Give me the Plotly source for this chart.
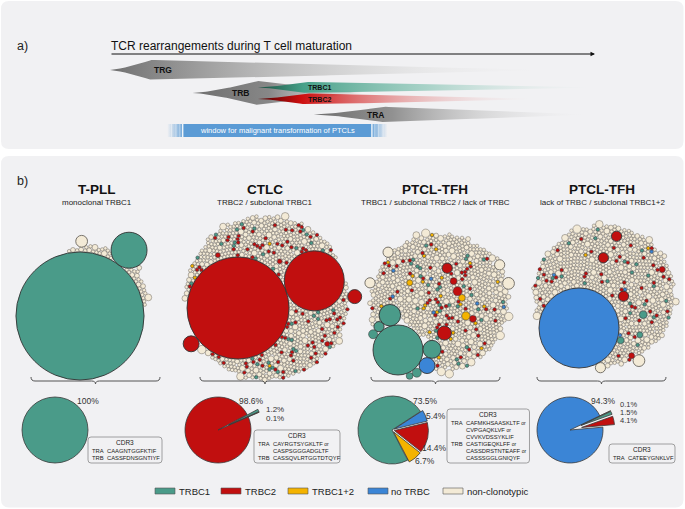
import math
import plotly.graph_objects as go

W, H = 685, 509
FONT = "Liberation Sans, Arial, Helvetica, sans-serif"

# ======================= DATA =======================
categories = ["TRBC1", "TRBC2", "TRBC1+2", "no TRBC", "non-clonotypic"]

# ---- panel a: schematic of TCR rearrangement timing (maturation axis 0..100)
segment_labels = ["TRG", "TRB", "TRBC1", "TRBC2", "TRA"]
segment_start = [0, 17, 30.5, 30.5, 42]
segment_peak = [8.5, 30.5, 40.5, 40.5, 56.5]
segment_end = [93, 52, 102, 90, 100]
window_label = "window for malignant transformation of PTCLs"
window_start, window_end = 15, 54

# ---- panel b
entity_titles = ["T-PLL", "CTLC", "PTCL-TFH", "PTCL-TFH"]
entity_subtitles = ["monoclonal TRBC1", "TRBC2 / subclonal TRBC1",
                    "TRBC1 / subclonal TRBC2 / lack of TRBC",
                    "lack of TRBC / subclonal TRBC1+2"]

# expanded clonotypes: category and cells per clonotype
tpll_clone_cat = ["TRBC1", "TRBC1"]
tpll_clone_size = [1420, 112]
tpll_small_cat = ["non-clonotypic"] * 5
tpll_small_size = [1, 2, 3, 4, 12]
tpll_small_n = [32, 8, 2, 1, 1]

ctlc_clone_cat = ["TRBC2", "TRBC2", "TRBC2", "TRBC2"]
ctlc_clone_size = [900, 311, 22, 17]
ctlc_small_cat = ["non-clonotypic"] * 6 + ["TRBC2", "TRBC2", "TRBC1", "TRBC1+2"]
ctlc_small_size = [1, 2, 3, 4, 5, 6, 1, 2, 1, 1]
ctlc_small_n = [560, 70, 20, 2, 2, 1, 90, 3, 35, 4]

tfh1_clone_cat = ["TRBC1"] * 7 + ["no TRBC"] + ["TRBC2"] * 5 + ["TRBC1+2"] * 3
tfh1_clone_size = [216, 40, 28, 9, 7, 7, 4, 22, 17, 9, 7, 4, 4, 6, 4, 3]
tfh1_small_cat = ["non-clonotypic"] * 8 + ["TRBC2", "TRBC1+2", "TRBC1", "no TRBC"]
tfh1_small_size = [1, 2, 3, 4, 5, 6, 9, 12, 1, 1, 1, 1]
tfh1_small_n = [650, 110, 35, 2, 1, 5, 3, 1, 55, 22, 28, 6]

tfh2_clone_cat = ["no TRBC", "TRBC2", "TRBC2", "TRBC2", "TRBC2", "TRBC2", "TRBC1", "TRBC1", "TRBC1"]
tfh2_clone_size = [554, 9, 9, 9, 3, 3, 5, 4, 3]
tfh2_small_cat = ["non-clonotypic"] * 8 + ["TRBC2", "TRBC1", "no TRBC", "TRBC1+2"]
tfh2_small_size = [1, 2, 3, 4, 5, 6, 9, 12, 1, 1, 1, 1]
tfh2_small_n = [620, 90, 25, 3, 2, 1, 1, 1, 45, 22, 4, 2]

# pie charts: share of clonotypic cells (%)
tpll_pie_cat = ["TRBC1"]
tpll_pie_pct = [100]
ctlc_pie_cat = ["TRBC1", "TRBC1+2", "TRBC2"]
ctlc_pie_pct = [1.2, 0.1, 98.6]
tfh1_pie_cat = ["no TRBC", "TRBC2", "TRBC1+2", "TRBC1"]
tfh1_pie_pct = [5.4, 14.4, 6.7, 73.5]
tfh2_pie_cat = ["TRBC1+2", "TRBC1", "TRBC2", "no TRBC"]
tfh2_pie_pct = [0.1, 1.5, 4.1, 94.3]

# CDR3 sequences
tpll_cdr3_tra = ["CAAGNTGGFKTIF"]
tpll_cdr3_trb = ["CASSFDNSGNTIYF"]
ctlc_cdr3_tra = ["CAYRGTSYGKLTF", "CASPSGGGADGLTF"]
ctlc_cdr3_trb = ["CASSQVLRTGGTDTQYF"]
tfh1_cdr3_tra = ["CAFMKHSAASKLTF", "CVPGAQKLVF", "CVVKVDSSYKLIF"]
tfh1_cdr3_trb = ["CASTIGEQKLFF", "CASSDRSTNTEAFF", "CASSSGGLGNIQYF"]
tfh2_cdr3_tra = ["CATEEYGNKLVF"]
tfh2_cdr3_trb = []

# ======================= STYLE / LAYOUT =======================
COLORS = {"TRBC1": "#4a9b89", "TRBC2": "#c10f0f", "TRBC1+2": "#f4b300",
          "no TRBC": "#3b85d6", "non-clonotypic": "#f3ead6"}
PANEL_BG = "#f1f1f3"
K = 1.7  # px per sqrt(cell)


def px(x):
    return x / W


def py(y):
    return 1 - y / H


def P(x, y):
    return f"{px(x):.5f},{py(y):.5f}"


# ---------------- front-chain circle packing (d3.packSiblings) -------------
def place(b, a, c):
    dx = b[0] - a[0]
    dy = b[1] - a[1]
    d2 = dx * dx + dy * dy
    if d2:
        a2 = (a[2] + c[2]) ** 2
        b2 = (b[2] + c[2]) ** 2
        if a2 > b2:
            x = (d2 + b2 - a2) / (2 * d2)
            y = math.sqrt(max(0.0, b2 / d2 - x * x))
            c[0] = b[0] - x * dx - y * dy
            c[1] = b[1] - x * dy + y * dx
        else:
            x = (d2 + a2 - b2) / (2 * d2)
            y = math.sqrt(max(0.0, a2 / d2 - x * x))
            c[0] = a[0] + x * dx - y * dy
            c[1] = a[1] + x * dy + y * dx
    else:
        c[0] = a[0] + c[2]
        c[1] = a[1]


def intersects(a, b):
    dr = a[2] + b[2] - 1e-6
    dx = b[0] - a[0]
    dy = b[1] - a[1]
    return dr > 0 and dr * dr > dx * dx + dy * dy


class Node:
    __slots__ = ("c", "next", "prev")

    def __init__(self, c):
        self.c = c
        self.next = None
        self.prev = None


def score(node, tx, ty):
    a = node.c
    b = node.next.c
    ab = a[2] + b[2]
    dx = (a[0] * b[2] + b[0] * a[2]) / ab - tx
    dy = (a[1] * b[2] + b[1] * a[2]) / ab - ty
    return dx * dx + dy * dy


def pack_siblings(circles, attract):
    n = len(circles)
    a = circles[0]
    a[0] = 0.0
    a[1] = 0.0
    if n < 2:
        return
    b = circles[1]
    a[0] = -b[2]
    b[0] = a[2]
    b[1] = 0.0
    if n < 3:
        return
    c = circles[2]
    place(b, a, c)
    a, b, c = Node(a), Node(b), Node(c)
    a.next = c.prev = b
    b.next = a.prev = c
    c.next = b.prev = a
    i = 3
    while i < n:
        cc = circles[i]
        place(a.c, b.c, cc)
        c = Node(cc)
        j, k = b.next, a.prev
        sj, sk = b.c[2], a.c[2]
        restart = False
        while True:
            if sj <= sk:
                if intersects(j.c, c.c):
                    b = j
                    a.next = b
                    b.prev = a
                    restart = True
                    break
                sj += j.c[2]
                j = j.next
            else:
                if intersects(k.c, c.c):
                    a = k
                    a.next = b
                    b.prev = a
                    restart = True
                    break
                sk += k.c[2]
                k = k.prev
            if j is k.next:
                break
        if restart:
            continue
        c.prev = a
        c.next = b
        a.next = c
        b.prev = c
        b = c
        nxt = i + 1
        if nxt < n and attract[nxt] is not None:
            tx, ty = circles[attract[nxt]][0], circles[attract[nxt]][1]
        else:
            tx, ty = 0.0, 0.0
        aa = score(a, tx, ty)
        c = c.next
        while c is not b:
            ca = score(c, tx, ty)
            if ca < aa:
                a = c
                aa = ca
            c = c.next
        b = a.next
        i += 1


def build_pack(clone_cat, clone_size, clone_key, clone_attract, small_cat, small_size, small_n, early):
    items = []
    for g, (c, s, n) in enumerate(zip(small_cat, small_size, small_n)):
        phase = (0.5 + 0.381966 * g) % 1.0
        for j in range(n):
            u = (j + phase) / n
            if c == "non-clonotypic" and s >= 4:
                key = 0.93 + 0.07 * u
            elif c != "non-clonotypic":
                key = u ** early
            else:
                key = u
            items.append((key, c, s, -1))
    for ci, (c, s, kk) in enumerate(zip(clone_cat, clone_size, clone_key)):
        items.append((kk, c, s, ci))
    items.sort(key=lambda t: t[0])
    pos_of_clone = {it[3]: idx for idx, it in enumerate(items) if it[3] >= 0}
    attract = []
    for it in items:
        if it[3] >= 0 and clone_attract[it[3]] is not None:
            attract.append(pos_of_clone[clone_attract[it[3]]])
        else:
            attract.append(None)
    circles = [[0.0, 0.0, math.sqrt(s)] for _, _, s, _ in items]
    cats = [c for _, c, _, _ in items]
    pack_siblings(circles, attract)
    return circles, cats


def orient(circles, ref, angle_deg, mirror=False):
    order = sorted(range(len(circles)), key=lambda i: -circles[i][2])
    ai = order[0]
    x0, y0 = circles[ai][0], circles[ai][1]
    if ref == "centroid":
        rx = sum(c[0] for c in circles) / len(circles)
        ry = sum(c[1] for c in circles) / len(circles)
    else:
        rx, ry = circles[order[1]][0], circles[order[1]][1]
    phi = math.radians(angle_deg)
    th = phi - math.atan2(ry - y0, rx - x0)
    ct, st = math.cos(th), math.sin(th)
    c2, s2 = math.cos(2 * phi), math.sin(2 * phi)
    out = []
    for x, y, r in circles:
        dx, dy = x - x0, y - y0
        u = dx * ct - dy * st
        v = dx * st + dy * ct
        if mirror:
            u, v = u * c2 + v * s2, u * s2 - v * c2
        out.append((u, v, r))
    return out


packs = [
    dict(cc=tpll_clone_cat, cs=tpll_clone_size, ck=[-2, -1], ca=[None, None],
         sc=tpll_small_cat, ss=tpll_small_size, sn=tpll_small_n, early=1.0,
         anchor=(80, 316), ref="second", angle=53.3, mirror=False),
    dict(cc=ctlc_clone_cat, cs=ctlc_clone_size, ck=[-4, -3, 0.965, 0.99], ca=[None, None, 0, None],
         sc=ctlc_small_cat, ss=ctlc_small_size, sn=ctlc_small_n, early=1.0,
         anchor=(238, 308), ref="second", angle=19.6, mirror=False),
    dict(cc=tfh1_clone_cat, cs=tfh1_clone_size,
         ck=[0.35, 0.3501, 0.3502, 0.3503, 0.3504, 0.3505, 0.3506, 0.35035,
             0.15, 0.22, 0.08, 0.3, 0.12, 0.18, 0.1, 0.28],
         ca=[None, 0, 0, 0, 0, 0, 0, 0, None, None, None, None, None, None, None, None],
         sc=tfh1_small_cat, ss=tfh1_small_size, sn=tfh1_small_n, early=1.5,
         anchor=(398, 350), ref="centroid", angle=50, mirror=False),
    dict(cc=tfh2_clone_cat, cs=tfh2_clone_size,
         ck=[0.003, 0.05, 0.2, 0.6, 0.75, 0.85, 0.3, 0.4, 0.5], ca=[None] * 9,
         sc=tfh2_small_cat, ss=tfh2_small_size, sn=tfh2_small_n, early=1.0,
         anchor=(579, 328), ref="centroid", angle=53, mirror=False),
]

fig = go.Figure()
layout = dict(width=W, height=H, margin=dict(l=0, r=0, t=0, b=0),
              paper_bgcolor="white", plot_bgcolor="rgba(0,0,0,0)", showlegend=False)

# ---- axes: x = maturation axis of panel a, y = pixel rows of the page
t_lo, t_hi = -5, 105
px_of_t0, px_per_t = 110, 4.85
layout["xaxis"] = dict(domain=[px(px_of_t0 + px_per_t * t_lo), px(px_of_t0 + px_per_t * t_hi)],
                       range=[t_lo, t_hi], visible=False, fixedrange=True)
layout["yaxis"] = dict(domain=[0, 1], range=[H, 0], visible=False, fixedrange=True)

shapes = []
ann = []


def text(x, y, s, size, color="#222", bold=False, xanchor="center", yanchor="middle",
         xref="paper", yref="paper"):
    ann.append(dict(x=px(x) if xref == "paper" else x, y=py(y) if yref == "paper" else y,
                    xref=xref, yref=yref, text=f"<b>{s}</b>" if bold else s,
                    showarrow=False, xanchor=xanchor, yanchor=yanchor, borderpad=0,
                    font=dict(size=size, color=color, family=FONT)))


def rrect(x0, y0, x1, y1, r):
    return (f"M{P(x0 + r, y0)} L{P(x1 - r, y0)} Q{P(x1, y0)} {P(x1, y0 + r)} "
            f"L{P(x1, y1 - r)} Q{P(x1, y1)} {P(x1 - r, y1)} L{P(x0 + r, y1)} "
            f"Q{P(x0, y1)} {P(x0, y1 - r)} L{P(x0, y0 + r)} Q{P(x0, y0)} {P(x0 + r, y0)} Z")


# panel backgrounds
for (y0, y1) in [(1, 149), (156, 507.5)]:
    shapes.append(dict(type="path", path=rrect(1, y0, 683.5, y1, 8), xref="paper", yref="paper",
                       fillcolor=PANEL_BG, line=dict(width=0), layer="below"))

# ======================= PANEL A =======================
text(22, 46, "a)", 12.5, "#222")
text(px_of_t0, 46, "TCR rearrangements during T cell maturation", 12, "#111", xanchor="left")
ann.append(dict(x=100, y=54, ax=0, ay=54, xref="x", yref="y", axref="x", ayref="y",
                text="", showarrow=True, arrowhead=2, arrowsize=0.9, arrowwidth=1,
                arrowcolor="#111"))

seg_lane = [70, 93, 87.5, 99, 114.5]
seg_half = [10, 12, 5.6, 5.6, 7.8]
seg_scale = [
    [[0, "rgb(112,112,112)"], [0.1, "rgb(135,135,135)"], [0.35, "rgba(182,182,182,0.9)"],
     [0.7, "rgba(225,225,225,0.55)"], [1, "rgba(241,241,243,0)"]],
    [[0, "rgb(110,110,110)"], [0.45, "rgb(135,135,135)"], [1, "rgba(195,195,195,0.25)"]],
    [[0, "rgb(25,80,65)"], [0.13, "rgb(70,160,136)"], [0.5, "rgba(115,188,168,0.55)"], [1, "rgba(241,241,243,0)"]],
    [[0, "rgb(80,0,0)"], [0.15, "rgb(205,15,15)"], [0.55, "rgba(225,120,120,0.45)"], [1, "rgba(241,241,243,0)"]],
    [[0, "rgb(110,110,110)"], [0.28, "rgb(145,145,145)"], [0.6, "rgba(198,198,198,0.6)"], [1, "rgba(241,241,243,0)"]],
]
for i in range(len(segment_labels)):
    t0, tp, t1 = segment_start[i], segment_peak[i], segment_end[i]
    n = 90
    ts = [t0 + (t1 - t0) * j / n for j in range(n + 1)]
    if tp not in ts:
        ts = sorted(ts + [tp])

    def half(t):
        if t <= tp:
            return seg_half[i] * ((t - t0) / (tp - t0)) ** 1.4
        return seg_half[i] * max(0.0, 1 - (t - tp) / (t1 - tp)) ** 1.1

    xs = ts + ts[::-1]
    ys = [seg_lane[i] - half(t) for t in ts] + [seg_lane[i] + half(t) for t in ts[::-1]]
    fig.add_trace(go.Scatter(x=xs, y=ys, mode="lines", fill="toself", line=dict(width=0),
                             fillgradient=dict(type="horizontal", colorscale=seg_scale[i],
                                               start=t0, stop=t1),
                             hoverinfo="skip", xaxis="x", yaxis="y"))

seg_label_t = [11, 27, 43.2, 43.2, 54.8]
seg_label_size = [8.5, 8.5, 7, 7, 8.5]
for i, lab in enumerate(segment_labels):
    text(seg_label_t[i], seg_lane[i], lab, seg_label_size[i], "#111", bold=True, xref="x", yref="y")

# window for malignant transformation
win_y0, win_y1 = 124, 137
blue = "91,155,213"
fig.add_trace(go.Scatter(x=[window_start, window_end, window_end, window_start, window_start],
                         y=[win_y0, win_y0, win_y1, win_y1, win_y0], mode="lines", fill="toself",
                         fillcolor=f"rgb({blue})", line=dict(width=0), hoverinfo="skip"))
fade = 3.2
for (a0, a1, cs) in [(window_start - fade, window_start,
                      [[0, f"rgba({blue},0)"], [1, f"rgba({blue},0.85)"]]),
                     (window_end, window_end + fade,
                      [[0, f"rgba({blue},0.85)"], [1, f"rgba({blue},0)"]])]:
    fig.add_trace(go.Scatter(x=[a0, a1, a1, a0, a0], y=[win_y0, win_y0, win_y1, win_y1, win_y0],
                             mode="lines", fill="toself", line=dict(width=0),
                             fillgradient=dict(type="horizontal", colorscale=cs, start=a0, stop=a1),
                             hoverinfo="skip"))
stripe_x, stripe_y = [], []
for t in [window_start - 2.3, window_start - 1.4, window_start - 0.6,
          window_end + 0.6, window_end + 1.4, window_end + 2.3]:
    stripe_x += [t, t, None]
    stripe_y += [win_y0, win_y1, None]
fig.add_trace(go.Scatter(x=stripe_x, y=stripe_y, mode="lines",
                         line=dict(color="rgba(255,255,255,0.55)", width=0.8), hoverinfo="skip"))
fig.add_trace(go.Scatter(x=[window_start, window_start, None, window_end, window_end],
                         y=[win_y0, win_y1, None, win_y0, win_y1], mode="lines",
                         line=dict(color="white", width=1.2), hoverinfo="skip"))
text((window_start + window_end) / 2, (win_y0 + win_y1) / 2, window_label, 7.5, "white",
     xref="x", yref="y")

# ======================= PANEL B =======================
text(22, 181, "b)", 12.5, "#222")
title_x = [97, 265, 435, 602]
for i in range(4):
    text(title_x[i], 189, entity_titles[i], 13.5, "#111", bold=True)
    text(title_x[i], 202, entity_subtitles[i], 8, "#222")

# ---- circle packs
for pi, pk in enumerate(packs):
    circles, cats = build_pack(pk["cc"], pk["cs"], pk["ck"], pk["ca"], pk["sc"], pk["ss"],
                               pk["sn"], pk["early"])
    pts = orient(circles, pk["ref"], pk["angle"], pk["mirror"])
    ax_id = pi + 2
    axp, ayp = pk["anchor"]
    layout[f"xaxis{ax_id}"] = dict(domain=[0, 1], range=[-axp / K, (W - axp) / K], visible=False,
                                   fixedrange=True, anchor=f"y{ax_id}")
    layout[f"yaxis{ax_id}"] = dict(domain=[0, 1], range=[-(H - ayp) / K, ayp / K], visible=False,
                                   fixedrange=True, anchor=f"x{ax_id}")
    for cat in ["non-clonotypic", "TRBC1+2", "TRBC1", "no TRBC", "TRBC2"]:
        sel = [p for p, c in zip(pts, cats) if c == cat]
        if not sel:
            continue
        sizes = [2 * p[2] * K for p in sel]
        widths = [0.9 if s > 9 else 0.5 for s in sizes]
        lcol = "#6a655d" if cat == "non-clonotypic" else "#333333"
        fig.add_trace(go.Scatter(
            x=[p[0] for p in sel], y=[p[1] for p in sel], mode="markers",
            marker=dict(size=sizes, color=COLORS[cat], line=dict(color=lcol, width=widths),
                        opacity=1),
            hoverinfo="skip", xaxis=f"x{ax_id}", yaxis=f"y{ax_id}"))

# ---- braces
brace_x = [(31, 160), (200, 330), (371, 500), (537, 666)]
brace_y = 381
for x0, x1 in brace_x:
    m = (x0 + x1) / 2
    path = (f"M{P(x0, brace_y - 4)} Q{P(x0, brace_y)} {P(x0 + 4, brace_y)} L{P(m - 4, brace_y)} "
            f"Q{P(m, brace_y)} {P(m, brace_y + 3)} Q{P(m, brace_y)} {P(m + 4, brace_y)} "
            f"L{P(x1 - 4, brace_y)} Q{P(x1, brace_y)} {P(x1, brace_y - 4)}")
    shapes.append(dict(type="path", path=path, xref="paper", yref="paper",
                       line=dict(color="#555", width=1), fillcolor="rgba(0,0,0,0)"))

# ---- pies
pie_sets = [(tpll_pie_cat, tpll_pie_pct), (ctlc_pie_cat, ctlc_pie_pct),
            (tfh1_pie_cat, tfh1_pie_pct), (tfh2_pie_cat, tfh2_pie_pct)]
pie_cx = [55, 218, 392, 570]
pie_cy = 430
pie_r = [33, 33, 34, 33]
pie_pull = [0, 0.36, 0.07, 0.36]
pie_rot = [0, 62, 57, 64.5]
for i, (cats_, vals) in enumerate(pie_sets):
    s = pie_r[i] * (1 + pie_pull[i])
    pulls = [0 if v == max(vals) else pie_pull[i] for v in vals]
    fig.add_trace(go.Pie(labels=cats_, values=vals, sort=False, direction="clockwise",
                         rotation=pie_rot[i], pull=pulls, textinfo="none", hoverinfo="skip",
                         marker=dict(colors=[COLORS[c] for c in cats_],
                                     line=dict(color="#3a3a3a", width=0.8)),
                         domain=dict(x=[px(pie_cx[i] - s), px(pie_cx[i] + s)],
                                     y=[py(pie_cy + s), py(pie_cy - s)]),
                         showlegend=False))

pie_label_pos = [
    [(87.5, 401)],
    [(275, 409.5), (275, 418), (251, 401)],
    [(436, 416), (434, 448.3), (424.5, 461), (425.6, 401)],
    [(628.5, 404), (628.5, 412), (628.5, 420), (603.8, 401)],
]
pie_label_size = [8.5, 8.0, 8.5, 7.5]
for i, (cats_, vals) in enumerate(pie_sets):
    for (x, y), v in zip(pie_label_pos[i], vals):
        sz = 8.5 if v == max(vals) else pie_label_size[i]
        text(x, y, f"{v}%", sz, "#333")

# ---- CDR3 boxes
cdr3_sets = [(tpll_cdr3_tra, tpll_cdr3_trb), (ctlc_cdr3_tra, ctlc_cdr3_trb),
             (tfh1_cdr3_tra, tfh1_cdr3_trb), (tfh2_cdr3_tra, tfh2_cdr3_trb)]
box_x = [(88, 162), (254, 340), (447, 529.5), (609, 675)]
box_bottom = 463
for i, (tra, trb) in enumerate(cdr3_sets):
    rows = []
    for chain, seqs in (("TRA", tra), ("TRB", trb)):
        for j, sq in enumerate(seqs):
            lab = chain if j == 0 else ""
            sfx = " <span style='font-size:5px'>or</span>" if j < len(seqs) - 1 else ""
            rows.append((lab, sq + sfx))
    n = len(rows)
    top = box_bottom - (19 + 7 * (n - 1))
    x0, x1 = box_x[i]
    shapes.append(dict(type="path", path=rrect(x0, top, x1, box_bottom, 3), xref="paper",
                       yref="paper", line=dict(color="#8a8a8a", width=0.8),
                       fillcolor="rgba(0,0,0,0)"))
    text((x0 + x1) / 2, top + 5.5, "CDR3", 6.5, "#222")
    for r, (lab, sq) in enumerate(rows):
        yy = top + 13.5 + 7 * r
        if lab:
            text(x0 + 2.5, yy, lab, 5.8, "#222", xanchor="left")
        text(x0 + 18, yy, sq, 5.8, "#222", xanchor="left")

# ---- legend
leg_sw_x = [155, 221, 288, 368, 443]
leg_tx_x = [178, 244, 311, 390, 466]
leg_y = 491
for i, cat in enumerate(categories):
    shapes.append(dict(type="rect", xref="paper", yref="paper",
                       x0=px(leg_sw_x[i]), x1=px(leg_sw_x[i] + 20),
                       y0=py(leg_y + 3), y1=py(leg_y - 3),
                       fillcolor=COLORS[cat], line=dict(color="#555", width=0.6)))
    text(leg_tx_x[i], leg_y, cat, 9.5, "#222", xanchor="left")

layout["shapes"] = shapes
layout["annotations"] = ann
fig.update_layout(**layout)
fig.write_html("out.html")
